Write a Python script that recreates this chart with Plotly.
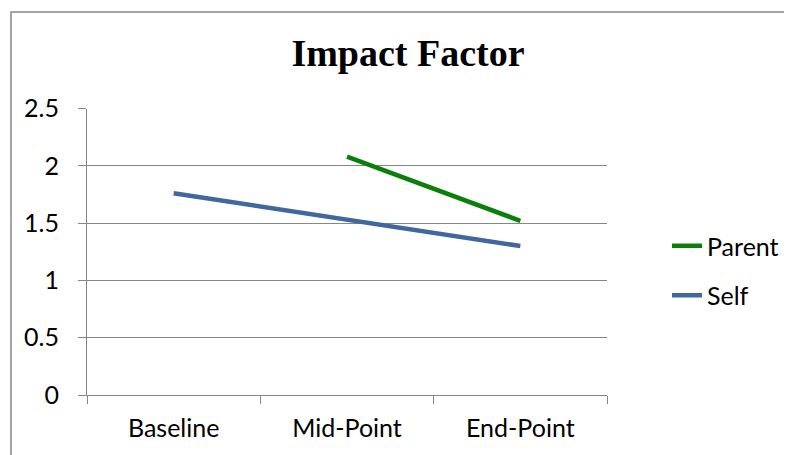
import plotly.graph_objects as go

categories = ["Baseline", "Mid-Point", "End-Point"]
parent_values = [None, 2.08, 1.52]
self_values = [1.76, 1.53, 1.30]
y_ticks = [0, 0.5, 1, 1.5, 2, 2.5]

W, H = 792, 455
OX, OY = 8, 8  # page body margin offset compensation


def px(x):
    return (x - OX) / W


def py(y):
    return 1 - (y - OY) / H


GREY = "#868686"
LABEL_FONT = dict(family="Lato", size=25, color="#000000")

fig = go.Figure()
fig.add_trace(go.Scatter(x=categories, y=parent_values, name="Parent", mode="lines",
                         line=dict(color="#0A800A", width=4.5), legendgroup="p"))
fig.add_trace(go.Scatter(x=categories, y=self_values, name="Self", mode="lines",
                         line=dict(color="#3F68A0", width=4.5), legendgroup="s"))

fig.update_layout(
    width=W, height=H,
    margin=dict(l=0, r=0, t=0, b=0, pad=0, autoexpand=False),
    paper_bgcolor="white", plot_bgcolor="white",
    title=dict(text="<b>Impact Factor</b>", font=dict(family="Liberation Serif", size=38, color="#000000"),
               x=px(408), xanchor="center", xref="paper",
               y=py(53), yanchor="middle", yref="paper", automargin=False),
    xaxis=dict(domain=[px(87), px(607)], type="category", tickson="boundaries",
               range=[-0.5, 2.5], showgrid=False, showline=True, linecolor=GREY, linewidth=1,
               ticks="outside", ticklen=8, tickcolor=GREY, tickwidth=1, automargin=False,
               tickfont=LABEL_FONT, ticklabelstandoff=11, zeroline=False),
    yaxis=dict(domain=[py(395), py(108.5)], range=[0, 2.5], tickvals=y_ticks,
               showgrid=True, gridcolor=GREY, gridwidth=1, showline=True, linecolor=GREY, linewidth=1,
               ticks="outside", ticklen=8, tickcolor=GREY, tickwidth=1, automargin=False,
               tickfont=LABEL_FONT, ticklabelstandoff=14, zeroline=False),
    legend=dict(x=px(667), xanchor="left", y=py(223), yanchor="top",
                font=LABEL_FONT, traceorder="grouped", tracegroupgap=14,
                bgcolor="rgba(0,0,0,0)", borderwidth=0),
    shapes=[dict(type="rect", xref="paper", yref="paper",
                 x0=px(11), x1=1.05, y0=-0.05, y1=py(12),
                 line=dict(color=GREY, width=1.5), layer="below")],
    showlegend=True,
)

fig.write_html("out.html")
